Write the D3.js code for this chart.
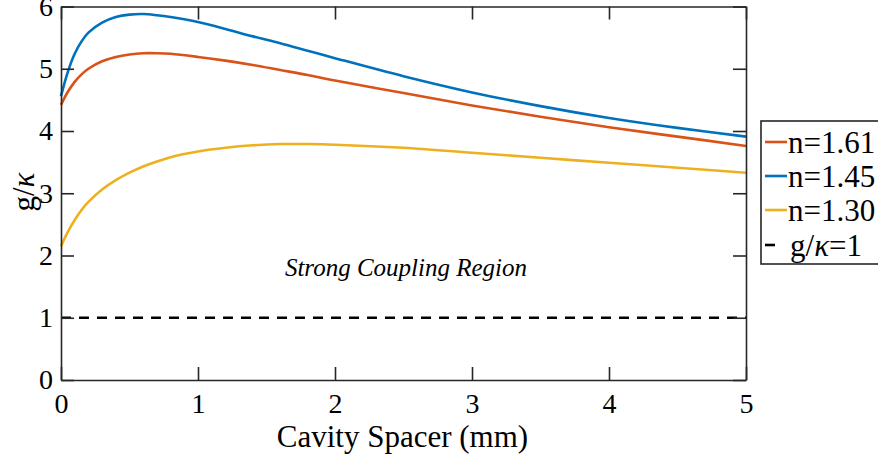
<!DOCTYPE html>
<html>
<head>
<meta charset="utf-8">
<script src="https://cdn.jsdelivr.net/npm/d3@7"></script>
<style>
  html, body { margin: 0; padding: 0; background: #fff; }
  svg { display: block; }
  text { font-family: "Liberation Serif", "Times New Roman", Times, serif; fill: #000; }
</style>
</head>
<body>
<svg id="chart" width="878" height="463"></svg>
<script>
// ---- data ----
const xValues = [0, 0.05, 0.1, 0.15, 0.2, 0.3, 0.4, 0.5, 0.6, 0.7, 0.8, 1.0, 1.2, 1.4, 1.6, 1.8, 2.0, 2.5, 3.0, 3.5, 4.0, 4.5, 5.0];
const n161 = [4.42, 4.63, 4.79, 4.91, 5.00, 5.12, 5.19, 5.23, 5.25, 5.25, 5.24, 5.19, 5.13, 5.06, 4.98, 4.90, 4.81, 4.61, 4.41, 4.23, 4.06, 3.91, 3.76];
const n145 = [4.56, 4.95, 5.24, 5.44, 5.58, 5.74, 5.83, 5.87, 5.88, 5.86, 5.83, 5.75, 5.64, 5.52, 5.41, 5.29, 5.17, 4.88, 4.62, 4.40, 4.21, 4.05, 3.91];
const n130 = [2.15, 2.38, 2.57, 2.73, 2.86, 3.06, 3.21, 3.33, 3.43, 3.51, 3.58, 3.67, 3.73, 3.77, 3.79, 3.79, 3.78, 3.73, 3.65, 3.57, 3.49, 3.41, 3.33];
const threshold = 1;
const xTicks = [0, 1, 2, 3, 4, 5];
const yTicks = [0, 1, 2, 3, 4, 5, 6];
const seriesNames = ["n=1.61", "n=1.45", "n=1.30"];
const seriesColors = ["#D95319", "#0072BD", "#EDB120"];
const seriesData = [n161, n145, n130];

// ---- layout ----
const svg = d3.select("#chart");
const mLeft = 61, mRight = 746, mTop = 6.5, mBottom = 380;
const x = d3.scaleLinear().domain([0, 5]).range([mLeft, mRight]);
const y = d3.scaleLinear().domain([0, 6]).range([mBottom, mTop]);
const axisColor = "#262626";
const tickLen = 13;
const serif = '"Liberation Serif", "Times New Roman", Times, serif';

// series lines
const line = d3.line().x(d => x(d[0])).y(d => y(d[1])).curve(d3.curveCatmullRom.alpha(0.5));
seriesData.forEach((vals, i) => {
  svg.append("path")
    .datum(xValues.map((xv, j) => [xv, vals[j]]))
    .attr("d", line)
    .attr("fill", "none")
    .attr("stroke", seriesColors[i])
    .attr("stroke-width", 2.6);
});

// threshold dashed line
svg.append("line")
  .attr("x1", x(0)).attr("x2", x(5))
  .attr("y1", y(threshold)).attr("y2", y(threshold))
  .attr("stroke", "#000").attr("stroke-width", 2.4)
  .attr("stroke-dasharray", "10,8");

// axes with inward ticks
const xAxisB = d3.axisBottom(x).tickValues(xTicks).tickSizeInner(-tickLen).tickSizeOuter(0).tickPadding(13).tickFormat(d3.format("d"));
const xAxisT = d3.axisTop(x).tickValues(xTicks).tickSizeInner(-tickLen).tickSizeOuter(0).tickFormat("");
const yAxisL = d3.axisLeft(y).tickValues(yTicks).tickSizeInner(-tickLen).tickSizeOuter(0).tickPadding(8).tickFormat(d3.format("d"));
const yAxisR = d3.axisRight(y).tickValues(yTicks).tickSizeInner(-tickLen).tickSizeOuter(0).tickFormat("");

function styleAxis(g) {
  g.attr("font-family", serif).attr("font-size", 28);
  g.select(".domain").attr("stroke", axisColor).attr("stroke-width", 1.6);
  g.selectAll(".tick line").attr("stroke", axisColor).attr("stroke-width", 1.6);
  g.selectAll(".tick text").attr("font-size", 28).attr("fill", "#262626")
    .attr("font-family", serif).style("font-family", serif);
}
svg.append("g").attr("transform", `translate(0,${mBottom})`).call(xAxisB).call(styleAxis);
svg.append("g").attr("transform", `translate(0,${mTop})`).call(xAxisT).call(styleAxis);
svg.append("g").attr("transform", `translate(${mLeft},0)`).call(yAxisL).call(styleAxis);
svg.append("g").attr("transform", `translate(${mRight},0)`).call(yAxisR).call(styleAxis);

// axis titles
svg.append("text")
  .attr("x", (mLeft + mRight) / 2 - 1).attr("y", 447)
  .attr("text-anchor", "middle").attr("font-size", 31)
  .text("Cavity Spacer (mm)");

const yl = svg.append("text")
  .attr("transform", "translate(34,192) rotate(-90)")
  .attr("text-anchor", "middle").attr("font-size", 31);
yl.append("tspan").text("g/");
yl.append("tspan").attr("font-style", "italic").text("κ");

// annotation
svg.append("text")
  .attr("x", 406).attr("y", 276)
  .attr("text-anchor", "middle").attr("font-size", 25).attr("font-style", "italic")
  .text("Strong Coupling Region");

// legend
const lg = svg.append("g");
lg.append("rect")
  .attr("x", 761).attr("y", 121).attr("width", 140).attr("height", 143)
  .attr("fill", "#fff").attr("stroke", axisColor).attr("stroke-width", 1.6);
const rowY = [142, 176, 210];
seriesNames.forEach((name, i) => {
  lg.append("line")
    .attr("x1", 765).attr("x2", 787).attr("y1", rowY[i]).attr("y2", rowY[i])
    .attr("stroke", seriesColors[i]).attr("stroke-width", 2.6);
  lg.append("text").attr("x", 788).attr("y", rowY[i] + 11).attr("font-size", 31).text(name);
});
lg.append("line")
  .attr("x1", 765).attr("x2", 782).attr("y1", 245).attr("y2", 245)
  .attr("stroke", "#000").attr("stroke-width", 2.6).attr("stroke-dasharray", "10,8");
const lt = lg.append("text").attr("x", 790).attr("y", 256).attr("font-size", 31);
lt.append("tspan").text("g/");
lt.append("tspan").attr("font-style", "italic").text("κ");
lt.append("tspan").text("=1");
</script>
</body>
</html>
